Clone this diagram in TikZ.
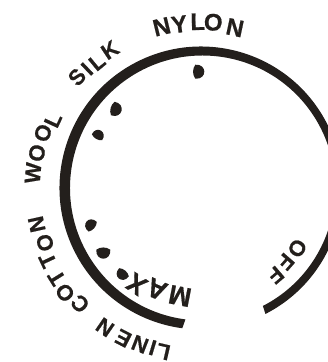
\documentclass[tikz,border=0pt]{standalone}
\usepackage{fontspec}
\setmainfont{Liberation Sans}[BoldFeatures={FakeBold=0.6}]
\usetikzlibrary{calc}
\definecolor{DialInk}{HTML}{231F1C}
\tikzset{
  letter/.style={font=\bfseries\fontsize{#1}{#1}\selectfont, text=DialInk, inner sep=0pt, anchor=center},
  dot/.style={fill=DialInk, draw=none},
}
\begin{document}
\begin{tikzpicture}[x=1pt,y=-1pt]
  \useasboundingbox (0,0) rectangle (328,362);
  \clip (0,0) rectangle (328,362);
  % dial ring
  \fill[DialInk] ($(201,188)+(62.9:141.5)$) arc[start angle=62.9, end angle=-262.4, radius=141.5]
    -- ($(202.5,188)+(97.4:132.5)$) arc[start angle=97.4, end angle=422.9, radius=132.5] -- cycle;
  % setting marks
  \foreach \mx/\my/\mrot/\msc in {198.3/71.7/0/1, 115.7/109.3/-15/1, 98.3/135/60/.85, 90.7/225/140/.9, 103.3/252.7/-90/1, 122.3/274.3/-130/.9}
    \fill[dot, shift={(\mx,\my)}, rotate=\mrot, scale=\msc] (-3,7) .. controls (9,8) and (9,-8) .. (-3,-7) .. controls (-6,-3) and (-6,3) .. cycle;
  % letters, tops pointing away from the dial centre
  \foreach \lsz/\word in {24/{N/161.7/26.7, Y/179.3/24.3, L/197.7/21.7, O/213.3/22.3, N/235/27.7},
      22/{S/77/77, I/87/69, L/97/62, K/110/50},
      22/{W/33/173, O/37/153, O/43/133, L/53/120},
      22/{N/36.7/224.3, O/45/242.7, T/47.7/260.3, T/56.7/277.7, O/65/292.7, C/80/303.7},
      22/{L/163.3/351.7, I/152.7/347.7, N/140/344.3, E/123.3/338.3, N/105/327.3},
      27/{M/180/296, A/156.7/289.3, X/136.7/284.3},
      22/{O/297.3/248.3, F/285.7/261.7, F/275.7/275}}
    \foreach \ch/\lx/\ly in \word {
      \pgfmathsetmacro\lrot{atan2(188-\ly,\lx-201)-90}
      \node[letter=\lsz, rotate=\lrot] at (\lx,\ly) {\ch};
    }
\end{tikzpicture}
\end{document}
